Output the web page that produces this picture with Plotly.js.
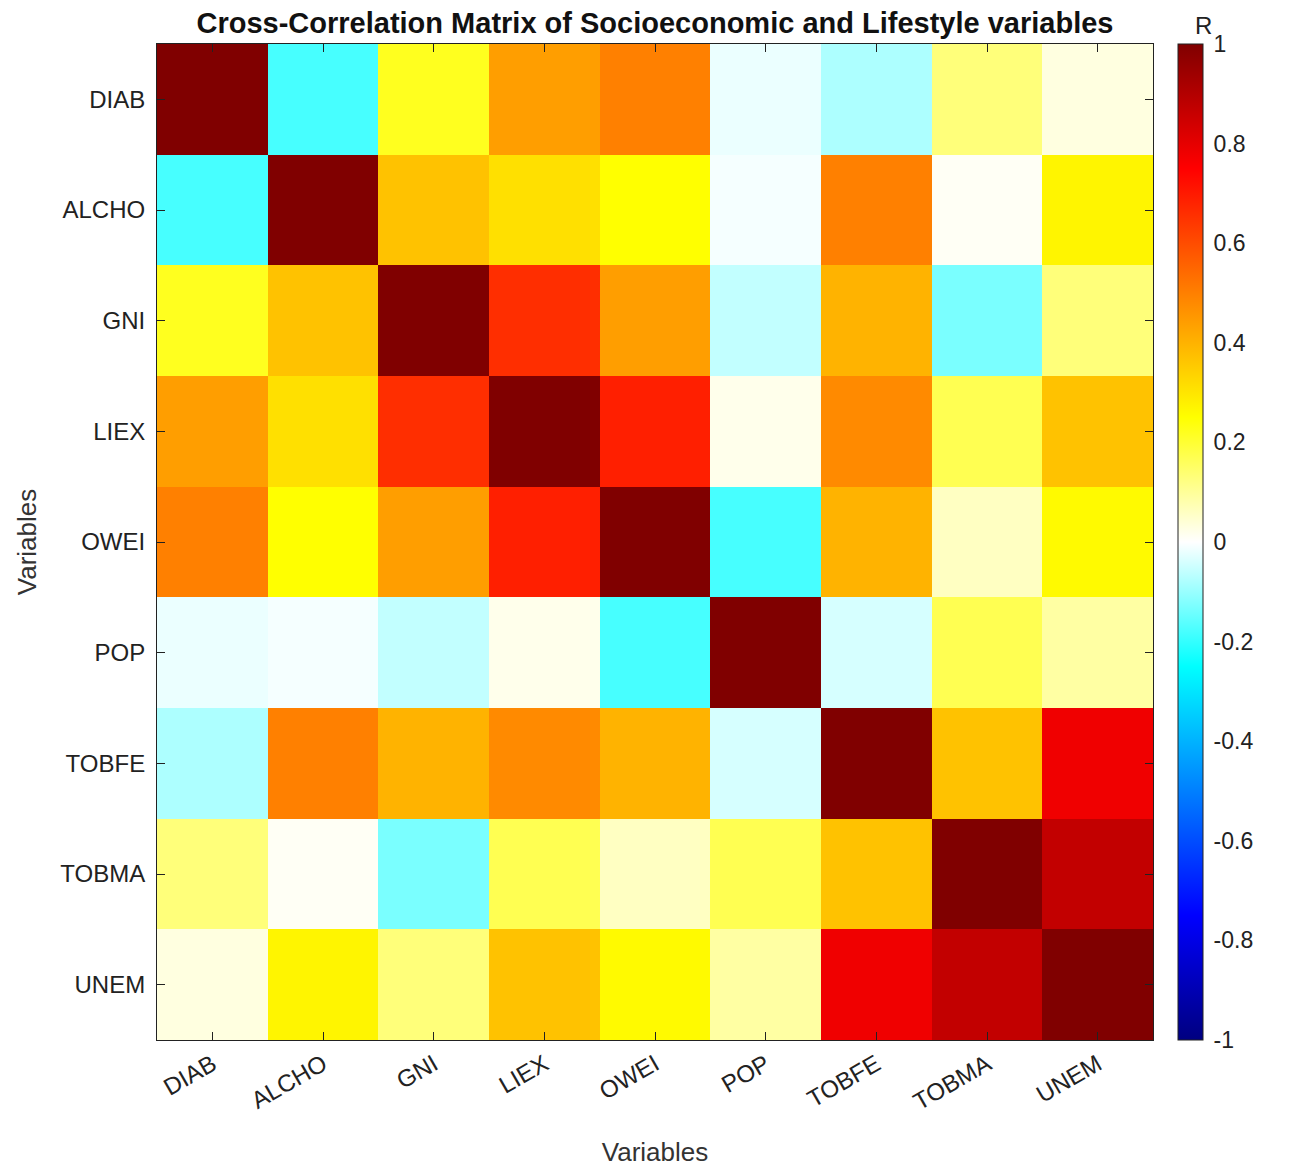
<!DOCTYPE html>
<html>
<head>
<meta charset="utf-8">
<script src="https://cdn.plot.ly/plotly-3.0.1.min.js"></script>
<style>html,body{margin:0;padding:0;background:#fff;}#chart{width:1289px;height:1169px;}</style>
</head>
<body>
<div id="chart"></div>
<script>
const variables = ["DIAB","ALCHO","GNI","LIEX","OWEI","POP","TOBFE","TOBMA","UNEM"];

const rowDIAB  = [1.00, -0.18, 0.22, 0.44, 0.50, -0.02, -0.08, 0.13, 0.03];
const rowALCHO = [-0.18, 1.00, 0.37, 0.31, 0.25, -0.01, 0.50, 0.01, 0.27];
const rowGNI   = [0.22, 0.37, 1.00, 0.66, 0.44, -0.06, 0.40, -0.13, 0.13];
const rowLIEX  = [0.44, 0.31, 0.66, 1.00, 0.69, 0.02, 0.48, 0.17, 0.37];
const rowOWEI  = [0.50, 0.25, 0.44, 0.69, 1.00, -0.18, 0.40, 0.06, 0.26];
const rowPOP   = [-0.02, -0.01, -0.06, 0.02, -0.18, 1.00, -0.04, 0.17, 0.09];
const rowTOBFE = [-0.08, 0.50, 0.40, 0.48, 0.40, -0.04, 1.00, 0.37, 0.78];
const rowTOBMA = [0.13, 0.01, -0.13, 0.17, 0.06, 0.17, 0.37, 1.00, 0.87];
const rowUNEM  = [0.03, 0.27, 0.13, 0.37, 0.26, 0.09, 0.78, 0.87, 1.00];

const zMatrix = [rowDIAB,rowALCHO,rowGNI,rowLIEX,rowOWEI,rowPOP,rowTOBFE,rowTOBMA,rowUNEM];
const colorbarTicks = [-1,-0.8,-0.6,-0.4,-0.2,0,0.2,0.4,0.6,0.8,1];

const colorscale = [
  [0.0, "#000080"],
  [0.125, "#0000ff"],
  [0.375, "#00ffff"],
  [0.5, "#ffffff"],
  [0.625, "#ffff00"],
  [0.875, "#ff0000"],
  [1.0, "#800000"]
];

const font = "Arial, 'Liberation Sans', sans-serif";

const trace = {
  type: "heatmap",
  x: variables,
  y: variables,
  z: zMatrix,
  zmin: -1, zmax: 1,
  colorscale: colorscale,
  zsmooth: false,
  colorbar: {
    x: 1.025, xanchor: "left", xpad: 0,
    y: 0.5, yanchor: "middle", ypad: 0,
    len: 1, lenmode: "fraction",
    thickness: 25, thicknessmode: "pixels",
    outlinecolor: "#222", outlinewidth: 1,
    tickvals: colorbarTicks,
    ticktext: colorbarTicks.map(v => String(v)),
    ticks: "outside", ticklen: 6, tickcolor: "rgba(0,0,0,0)",
    tickfont: {family: font, size: 23, color: "#222"}
  }
};

const layout = {
  width: 1289, height: 1169,
  margin: {l: 157, r: 136, t: 44, b: 129},
  paper_bgcolor: "#fff", plot_bgcolor: "#fff",
  title: {
    text: "<b>Cross-Correlation Matrix of Socioeconomic and Lifestyle variables</b>",
    x: 0.5, xref: "paper", xanchor: "center",
    y: 1 - 23/1169, yref: "container", yanchor: "middle",
    font: {family: "'Liberation Sans Narrow', Arial, sans-serif", size: 29, color: "#111"}
  },
  xaxis: {
    type: "category",
    showline: true, linecolor: "#222", linewidth: 1, mirror: "ticks",
    ticks: "inside", ticklen: 8, tickcolor: "#222",
    tickangle: -30,
    tickfont: {family: font, size: 24, color: "#222"},
    title: {text: "Variables", font: {family: font, size: 26, color: "#333"}, standoff: 28},
    showgrid: false, zeroline: false
  },
  yaxis: {
    type: "category",
    autorange: "reversed",
    showline: true, linecolor: "#222", linewidth: 1, mirror: "ticks",
    ticks: "inside", ticklen: 8, tickcolor: "#222",
    ticklabelstandoff: 6,
    tickfont: {family: font, size: 24, color: "#222"},
    title: {text: "Variables", font: {family: font, size: 26, color: "#333"}, standoff: 16},
    showgrid: false, zeroline: false
  },
  annotations: [{
    text: "R", xref: "paper", yref: "paper",
    x: (1203 - 157) / 996, y: 1, xanchor: "center", yanchor: "bottom",
    yshift: 3, showarrow: false,
    font: {family: font, size: 24, color: "#222"}
  }]
};

Plotly.newPlot("chart", [trace], layout, {displayModeBar: false, staticPlot: true});
</script>
</body>
</html>
